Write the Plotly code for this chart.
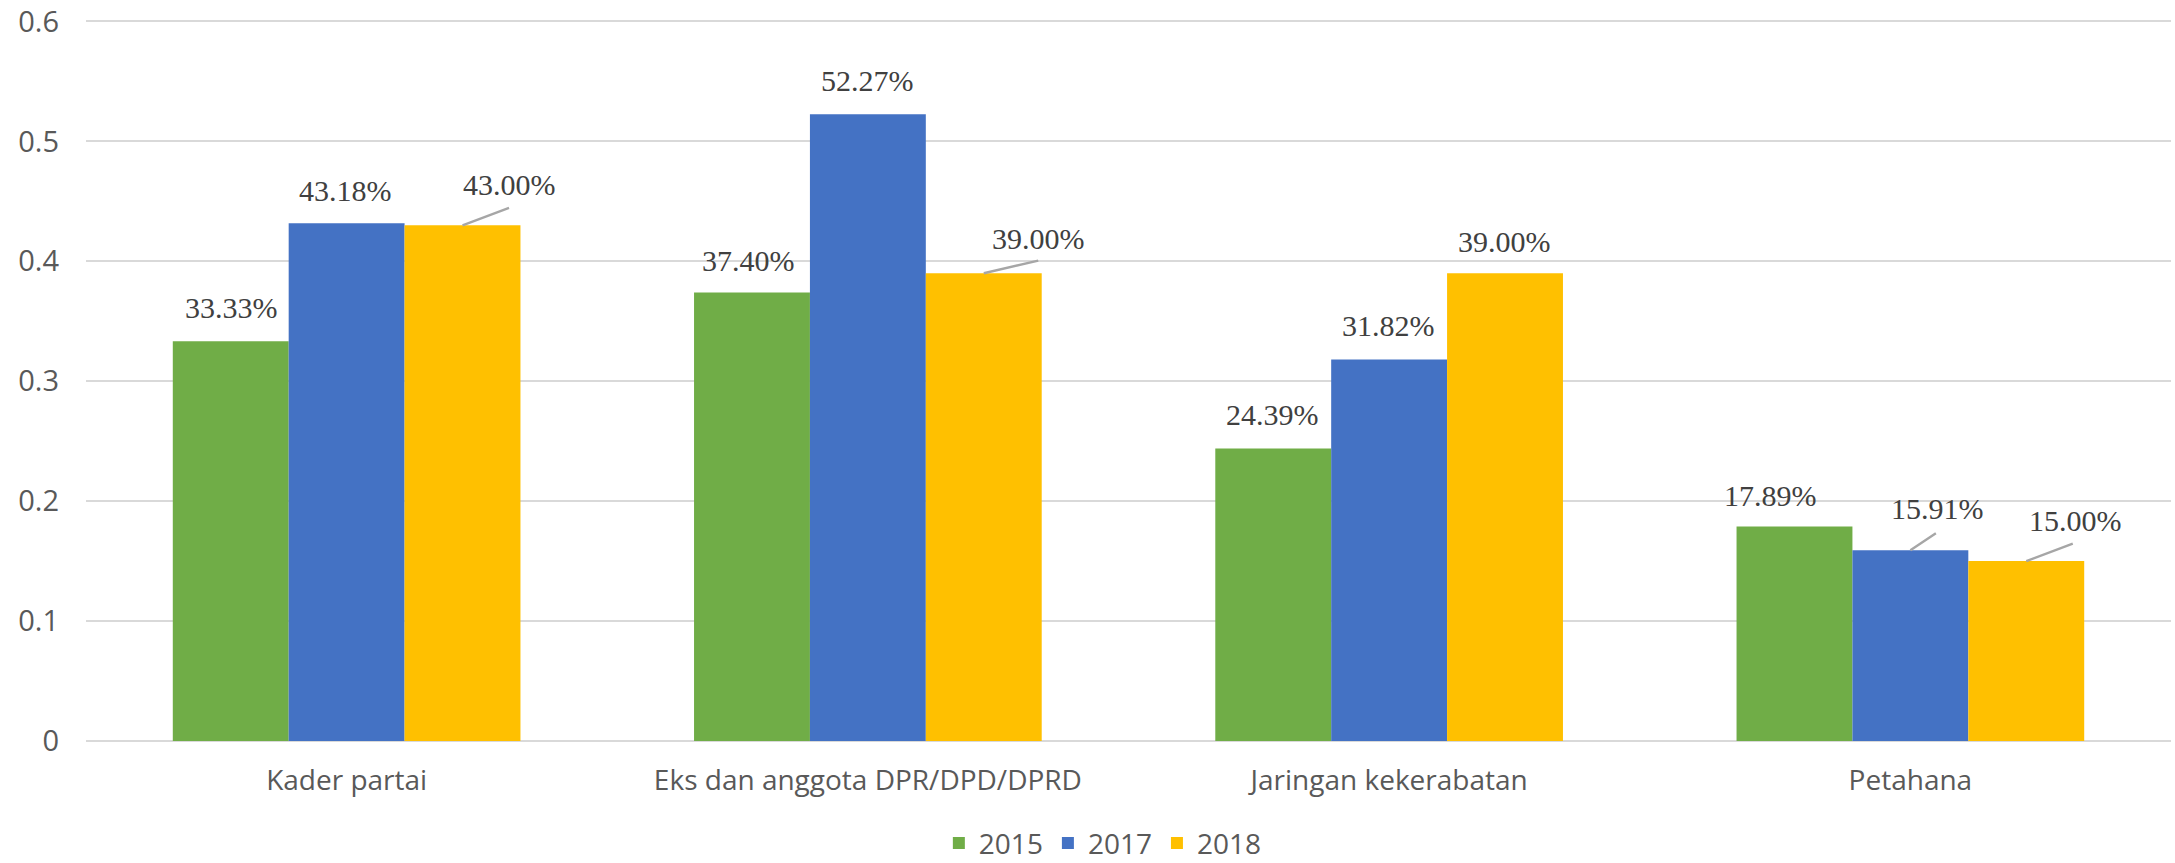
import plotly.graph_objects as go

categories = ["Kader partai", "Eks dan anggota DPR/DPD/DPRD", "Jaringan kekerabatan", "Petahana"]
series_names = ["2015", "2017", "2018"]
values_2015 = [0.3333, 0.3740, 0.2439, 0.1789]
values_2017 = [0.4318, 0.5227, 0.3182, 0.1591]
values_2018 = [0.4300, 0.3900, 0.3900, 0.1500]
y_ticks = [0, 0.1, 0.2, 0.3, 0.4, 0.5, 0.6]

# styles
colors = ["#70AD47", "#4472C4", "#FFC000"]
# label offsets in pixels relative to the bar-top centre
label_dx = [[1, -3, -1, -24], [-1, 0, -1, 27], [47, 55, -1, 49]]
label_dy = [[34, 32, 34, 31], [33, 34, 34, 42], [41, 35, 32, 41]]
# leader line end offsets (None = no leader)
leader_end = [[None, None, None, None],
              [None, None, None, (27, 18)],
              [(48, 18), (56, 13), None, (48, 18)]]

all_values = [values_2015, values_2017, values_2018]
bargap = 0.333

fig = go.Figure()
for name, vals, col in zip(series_names, all_values, colors):
    fig.add_trace(go.Bar(x=categories, y=vals, name=name,
                         marker=dict(color=col, line=dict(width=0)),
                         hoverinfo="skip"))

bar_w = (1 - bargap) / len(series_names)
annotations = []
label_font = dict(family="Liberation Serif, Times New Roman, serif", size=30, color="#404040")
for k, vals in enumerate(all_values):
    for i, v in enumerate(vals):
        xpos = i + (k - (len(series_names) - 1) / 2) * bar_w
        txt = f"{v*100:.2f}%"
        annotations.append(dict(x=xpos, y=v, xref="x", yref="y", text=txt,
                                showarrow=False, xshift=label_dx[k][i], yshift=label_dy[k][i],
                                font=label_font))
        le = leader_end[k][i]
        if le is not None:
            annotations.append(dict(x=xpos, y=v, xref="x", yref="y", text="",
                                    showarrow=True, arrowhead=0, arrowwidth=2.4,
                                    arrowcolor="#A6A6A6", ax=le[0], ay=-le[1],
                                    standoff=0, startstandoff=0))

fig.update_layout(
    width=2175, height=863,
    margin=dict(l=86, r=4, t=20, b=122, pad=0, autoexpand=False),
    paper_bgcolor="white", plot_bgcolor="white",
    barmode="group", bargap=bargap, bargroupgap=0,
    font=dict(family="Open Sans, sans-serif", size=28, color="#595959"),
    xaxis=dict(showgrid=False, showline=False, ticks="", ticklabelstandoff=20,
               automargin=False, tickfont=dict(size=28, color="#595959")),
    yaxis=dict(range=[0, 0.6012], tickvals=y_ticks, showgrid=True, gridcolor="#D9D9D9",
               gridwidth=1.6, zeroline=True, zerolinecolor="#D9D9D9", zerolinewidth=1.6,
               showline=False, ticks="", ticklabelstandoff=26, automargin=False,
               ticklabeloverflow="allow",
               tickfont=dict(size=29, color="#595959")),
    legend=dict(orientation="h", x=0.4877, xanchor="center", y=-0.142, yanchor="middle",
                font=dict(size=28, color="#595959"), itemwidth=30, traceorder="normal"),
    annotations=annotations,
    showlegend=True,
    hovermode=False,
)

fig.write_html("out.html",
               config={"displayModeBar": False},
               post_script="document.body.style.margin='0';document.body.style.padding='0';")
